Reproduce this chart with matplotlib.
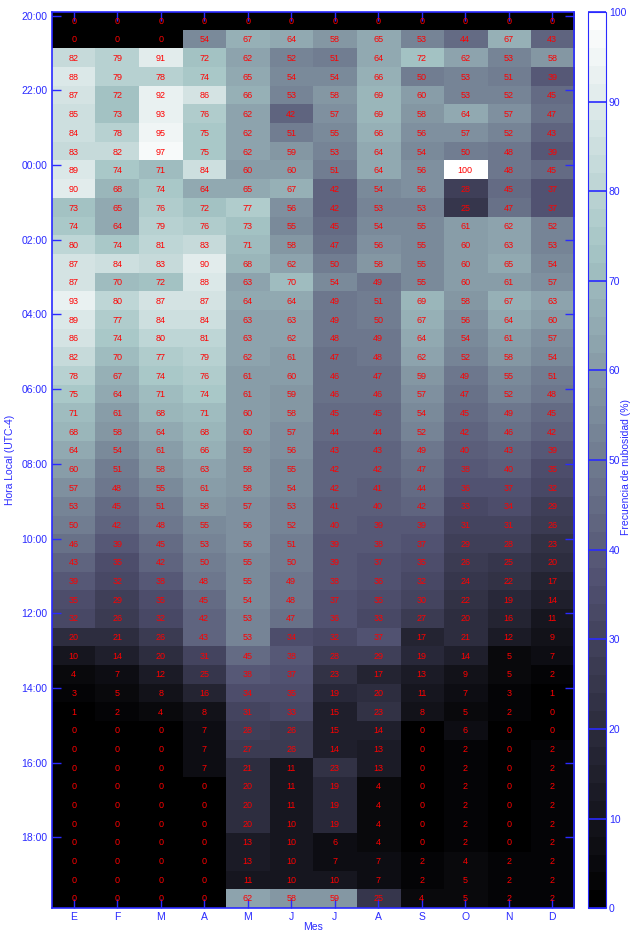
import numpy as np
import matplotlib
matplotlib.use("Agg")
import matplotlib.pyplot as plt

plt.rcParams['font.family'] = ['Liberation Sans', 'DejaVu Sans']

# etiquetas de los meses
meses = ["E", "F", "M", "A", "M", "J", "J", "A", "S", "O", "N", "D"]

# horas locales (cada 30 min desde las 20:00)
horas = ["20:00", "22:00", "00:00", "02:00", "04:00", "06:00",
         "08:00", "10:00", "12:00", "14:00", "16:00", "18:00"]

# frecuencia de nubosidad (%) por fila (media hora) y mes
frecuencia = [
    [0, 0, 0, 0, 0, 0, 0, 0, 0, 0, 0, 0],
    [0, 0, 0, 54, 67, 64, 58, 65, 53, 44, 67, 43],
    [82, 79, 91, 72, 62, 52, 51, 64, 72, 62, 53, 58],
    [88, 79, 78, 74, 65, 54, 54, 66, 50, 53, 51, 39],
    [87, 72, 92, 86, 66, 53, 58, 69, 60, 53, 52, 45],
    [85, 73, 93, 76, 62, 42, 57, 69, 58, 64, 57, 47],
    [84, 78, 95, 75, 62, 51, 55, 66, 56, 57, 52, 43],
    [83, 82, 97, 75, 62, 59, 53, 64, 54, 50, 48, 39],
    [89, 74, 71, 84, 60, 60, 51, 64, 56, 100, 48, 45],
    [90, 68, 74, 64, 65, 67, 42, 54, 56, 28, 45, 37],
    [73, 65, 76, 72, 77, 56, 42, 53, 53, 25, 47, 37],
    [74, 64, 79, 76, 73, 55, 45, 54, 55, 61, 62, 52],
    [80, 74, 81, 83, 71, 58, 47, 56, 55, 60, 63, 53],
    [87, 84, 83, 90, 68, 62, 50, 58, 55, 60, 65, 54],
    [87, 70, 72, 88, 63, 70, 54, 49, 55, 60, 61, 57],
    [93, 80, 87, 87, 64, 64, 49, 51, 69, 58, 67, 63],
    [89, 77, 84, 84, 63, 63, 49, 50, 67, 56, 64, 60],
    [86, 74, 80, 81, 63, 62, 48, 49, 64, 54, 61, 57],
    [82, 70, 77, 79, 62, 61, 47, 48, 62, 52, 58, 54],
    [78, 67, 74, 76, 61, 60, 46, 47, 59, 49, 55, 51],
    [75, 64, 71, 74, 61, 59, 46, 46, 57, 47, 52, 48],
    [71, 61, 68, 71, 60, 58, 45, 45, 54, 45, 49, 45],
    [68, 58, 64, 68, 60, 57, 44, 44, 52, 42, 46, 42],
    [64, 54, 61, 66, 59, 56, 43, 43, 49, 40, 43, 39],
    [60, 51, 58, 63, 58, 55, 42, 42, 47, 38, 40, 35],
    [57, 48, 55, 61, 58, 54, 42, 41, 44, 36, 37, 32],
    [53, 45, 51, 58, 57, 53, 41, 40, 42, 33, 34, 29],
    [50, 42, 48, 55, 56, 52, 40, 39, 39, 31, 31, 26],
    [46, 39, 45, 53, 56, 51, 39, 38, 37, 29, 28, 23],
    [43, 35, 42, 50, 55, 50, 39, 37, 35, 26, 25, 20],
    [39, 32, 38, 48, 55, 49, 38, 36, 32, 24, 22, 17],
    [35, 29, 35, 45, 54, 48, 37, 35, 30, 22, 19, 14],
    [32, 26, 32, 42, 53, 47, 36, 33, 27, 20, 16, 11],
    [20, 21, 26, 43, 53, 34, 32, 37, 17, 21, 12, 9],
    [10, 14, 20, 31, 45, 38, 28, 29, 19, 14, 5, 7],
    [4, 7, 12, 25, 38, 37, 23, 17, 13, 9, 5, 2],
    [3, 5, 8, 16, 34, 35, 19, 20, 11, 7, 3, 1],
    [1, 2, 4, 8, 31, 33, 15, 23, 8, 5, 2, 0],
    [0, 0, 0, 7, 28, 26, 15, 14, 0, 6, 0, 0],
    [0, 0, 0, 7, 27, 26, 14, 13, 0, 2, 0, 2],
    [0, 0, 0, 7, 21, 11, 23, 13, 0, 2, 0, 2],
    [0, 0, 0, 0, 20, 11, 19, 4, 0, 2, 0, 2],
    [0, 0, 0, 0, 20, 11, 19, 4, 0, 2, 0, 2],
    [0, 0, 0, 0, 20, 10, 19, 4, 0, 2, 0, 2],
    [0, 0, 0, 0, 13, 10, 6, 4, 0, 2, 0, 2],
    [0, 0, 0, 0, 13, 10, 7, 7, 2, 4, 2, 2],
    [0, 0, 0, 0, 11, 10, 10, 7, 2, 5, 2, 2],
    [0, 0, 0, 0, 62, 58, 59, 25, 4, 5, 2, 2],
]

azul = "#2a2aff"


def main():
    datos = np.array(frecuencia)
    n_filas, n_meses = datos.shape

    fig = plt.figure(figsize=(6.31, 9.34), dpi=100)
    ax = fig.add_axes([0.0824, 0.0275, 0.8273, 0.9597])
    cax = fig.add_axes([0.932, 0.0275, 0.0285, 0.9597])

    cmap = plt.get_cmap("bone", 50)
    im = ax.imshow(datos, cmap=cmap, vmin=0, vmax=100, aspect="auto",
                   interpolation="nearest")

    # valores en cada celda
    for i in range(n_filas):
        for j in range(n_meses):
            ax.text(j, i, str(datos[i, j]), ha="center", va="center",
                    color="red", fontsize=6.5)

    ax.set_xticks(np.arange(n_meses))
    ax.set_xticklabels(meses)
    ax.set_yticks(np.arange(0, n_filas, 4) - 0.3)
    ax.set_yticklabels(horas)
    ax.tick_params(direction="in", length=6.5, width=1, color=azul,
                   labelcolor=azul, labelsize=7.5, top=True, right=True)
    ax.tick_params(axis="x", pad=3)
    for s in ax.spines.values():
        s.set_color(azul)
        s.set_linewidth(1.2)

    ax.set_xlabel("Mes", color=azul, fontsize=7.5, labelpad=0)
    ax.set_ylabel("Hora Local (UTC-4)", color=azul, fontsize=7.5, labelpad=4)

    cb = fig.colorbar(im, cax=cax, ticks=np.arange(0, 101, 10))
    cb.outline.set_edgecolor(azul)
    cb.ax.tick_params(direction="in", length=13, width=1.2, color=azul,
                      labelcolor=azul, labelsize=7.5, pad=2)
    fig.text(0.984, 0.5, "Frecuencia de nubosidad (%)", rotation=90,
             ha="left", va="center", color=azul, fontsize=7.5)

    fig.savefig("out.png", dpi=100)


if __name__ == "__main__":
    main()
